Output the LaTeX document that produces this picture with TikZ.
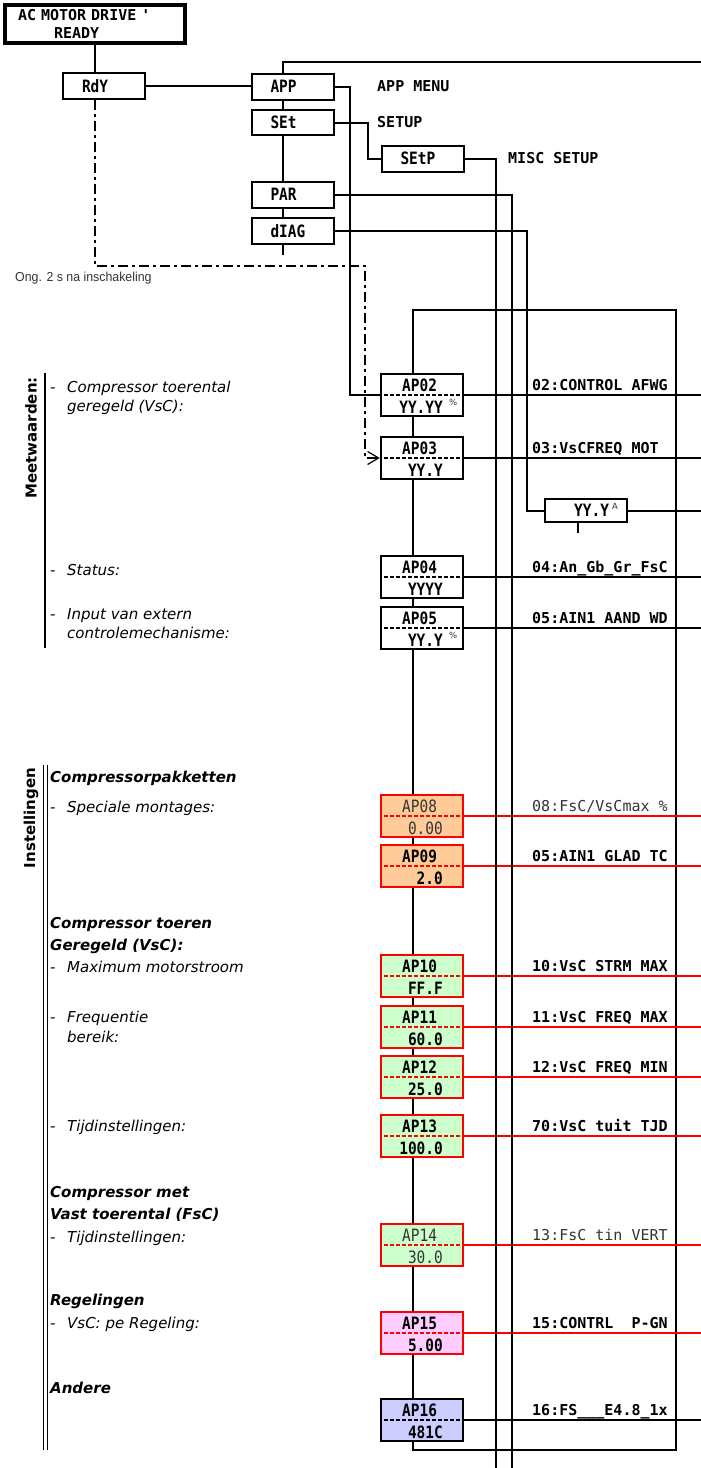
\documentclass[tikz,border=0pt]{standalone}
\usepackage{fontspec}
\usetikzlibrary{arrows.meta}
\newfontfamily\lcdfont{DejaVu Sans Mono}[FakeStretch=0.85]
\newfontfamily\tagfont{DejaVu Sans Mono}
\newfontfamily\notefont{DejaVu Sans}
\newfontfamily\hintfont{Liberation Sans}[FakeStretch=0.95]
\definecolor{peach}{HTML}{FFCC99}
\definecolor{mint}{HTML}{CCFFCC}
\definecolor{rose}{HTML}{FFCCFF}
\definecolor{lilac}{HTML}{CCCCFF}
\definecolor{dimink}{HTML}{333333}
\newcommand{\itemdash}{\makebox[17pt][l]{-}}

\begin{document}
\begin{tikzpicture}[x=1pt, y=-1pt,
    wire/.style={line width=2pt},
    menubox/.style={draw, wire, fill=white, minimum width=82pt, minimum height=26pt,
      inner xsep=0pt, inner ysep=0pt, text width=44pt, align=left,
      font=\lcdfont\bfseries\fontsize{17}{18}\selectfont},
    apbox/.style={draw, line width=2.5pt, minimum width=82pt, minimum height=42pt},
    lcdtext/.style={anchor=base west, inner sep=0pt, font=\lcdfont\bfseries\fontsize{17}{18}\selectfont},
    lcdvalue/.style={lcdtext, anchor=base east},
    tagtext/.style={anchor=base west, inner sep=0pt, font=\tagfont\bfseries\fontsize{15}{18}\selectfont},
    unitmark/.style={anchor=base west, inner sep=0pt, text=black!80, font=\notefont\fontsize{8.5}{9}\selectfont},
    notetext/.style={anchor=base west, inner sep=0pt, font=\notefont\itshape\fontsize{15}{18}\selectfont},
    headtext/.style={notetext, font=\notefont\bfseries\itshape\fontsize{15}{18}\selectfont},
    sidetext/.style={rotate=90, font=\notefont\bfseries\fontsize{15}{18}\selectfont},
    dashdot/.style={line width=1.8pt, dash pattern=on 10pt off 4pt on 3pt off 4pt},
    firm/.style={},
    dim/.style={text=dimink, execute at begin node=\mdseries},
    >={Straight Barb[length=11pt,width=13pt,line width=1.2pt]}
  ]
  \useasboundingbox (0,0) rectangle (701,1468);

  % Fixed points at the edges
  \coordinate (rim) at (701,0);
  \coordinate (spine) at (283,0);
  \coordinate (topbar) at (701,62);
  \coordinate (bus1) at (496,1468);
  \coordinate (bus2) at (512,1468);
  \coordinate (loopnw) at (413,310);
  \coordinate (loopse) at (676,1450);

  % Display and main menu
  \node[draw, line width=4pt, minimum width=180pt, minimum height=38pt, inner sep=0pt,
    text width=154pt, align=left, font=\tagfont\bfseries\fontsize{15}{18}\selectfont]
    (drive) at (95,24) {AC MOTOR DRIVE \textquotesingle\\\phantom{XXXX}READY};
  \node[menubox] (rdy) at (104,86) {RdY};
  \node[menubox] (app) at (292.5,86.5) {APP};
  \node[menubox, minimum height=25pt] (set) at (292.5,122.5) {SEt};
  \node[menubox] (setp) at (422.5,158.5) {SEtP};
  \node[menubox] (par) at (292.5,194.5) {PAR};
  \node[menubox] (diag) at (292.5,231) {dIAG};
  \node[menubox, minimum height=23pt] (amp) at (586,510.5) {};
  \node[lcdtext] at (574,516) {YY.Y};
  \node[unitmark] at (612,509) {A};

  \node[tagtext] at (377,91) {APP MENU};
  \node[tagtext] at (377,127) {SETUP};
  \node[tagtext] at (508,163) {MISC SETUP};
  \node[anchor=base west, inner sep=0pt, text=dimink, font=\hintfont\fontsize{13}{15}\selectfont]
    at (15,281) {Ong. 2 s na inschakeling};

  % APP parameter loop
  \draw[wire] (loopnw) rectangle (loopse);
  \foreach \nm/\yy/\cd/\val/\un/\lbl/\lc/\fc/\tw in {
      ap02/395/AP02/YY.YY/\%/{02:CONTROL AFWG}/black/white/firm,
      ap03/458/AP03/YY.Y//{03:VsCFREQ MOT}/black/white/firm,
      ap04/577/AP04/YYYY//{04:An\_Gb\_Gr\_FsC}/black/white/firm,
      ap05/628/AP05/YY.Y/\%/{05:AIN1 AAND WD}/black/white/firm,
      ap08/816/AP08/0.00//{08:FsC/VsCmax \%}/red/peach/dim,
      ap09/866/AP09/2.0//{05:AIN1 GLAD TC}/red/peach/firm,
      ap10/976/AP10/FF.F//{10:VsC STRM MAX}/red/mint/firm,
      ap11/1027/AP11/60.0//{11:VsC FREQ MAX}/red/mint/firm,
      ap12/1077/AP12/25.0//{12:VsC FREQ MIN}/red/mint/firm,
      ap13/1136/AP13/100.0//{70:VsC tuit TJD}/red/mint/firm,
      ap14/1245/AP14/30.0//{13:FsC tin VERT}/red/mint/dim,
      ap15/1333/AP15/5.00//{15:CONTRL\ \ P-GN}/red/rose/firm,
      ap16/1420/AP16/481C//{16:FS\_\_\_E4.8\_1x}/black/lilac/firm}{
    \node[apbox, draw=\lc, fill=\fc] (\nm) at (422,\yy) {};
    \draw[\lc, line width=1.4pt, dash pattern=on 4pt off 2pt] ([xshift=4pt]\nm.west) -- (\nm.east);
    \draw[wire, \lc] (\nm.east) -- (\nm.east -| rim);
    \node[lcdtext, \tw] at (402,\yy-4) {\cd};
    \node[lcdvalue, \tw] at (443,\yy+18) {\val};
    \node[unitmark] at (449,\yy+10) {\un};
    \node[tagtext, \tw] at (532,\yy-4.5) {\lbl};
  }

  % Menu connections
  \draw[wire] (drive.south) -- (drive.south |- rdy.north);
  \draw[wire] (rdy.east) -- (rdy.east -| app.west);
  \draw[wire] (app.north -| spine) |- (topbar);
  \draw[wire] (app.south -| spine) -- (set.north -| spine);
  \draw[wire] (set.south -| spine) -- (par.north -| spine);
  \draw[wire] (par.south -| spine) -- (diag.north -| spine);
  \draw[dashdot] (diag.south -| spine) -- ++(0,10);
  \draw[wire] (app.east) -- ++(15,0) |- (ap02.west);
  \draw[wire] (set.east) -- ++(33,0) |- (setp.west);
  \draw[wire] (setp.east) -| (bus1);
  \draw[wire] (par.east) -| (bus2);
  \draw[wire] (diag.east) -| ([xshift=-17pt]amp.west) -- (amp.west);
  \draw[wire] (amp.east) -- (amp.east -| rim);
  \draw[wire] ([xshift=-8pt]amp.south) -- ++(0,10);
  \draw[dashdot, ->] (rdy.south -| drive.south) -- ++(0,166) -| ([xshift=-15pt]ap03.west) -- (ap03.west);

  % Meetwaarden
  \node[sidetext] at (31,438) {Meetwaarden:};
  \draw[line width=2.2pt] (45,373) -- (45,648);
  \node[notetext] at (50,392) {\itemdash Compressor toerental};
  \node[notetext] at (67,411) {geregeld (VsC):};
  \node[notetext] at (50,575) {\itemdash Status:};
  \node[notetext] at (50,619) {\itemdash Input van extern};
  \node[notetext] at (67,638) {controlemechanisme:};

  % Instellingen
  \node[sidetext] at (31,818) {Instellingen};
  \draw[line width=1.5pt, double distance=2.2pt] (45.5,765) -- (45.5,1450);
  \node[headtext] at (50,782) {Compressorpakketten};
  \node[notetext] at (50,812) {\itemdash Speciale montages:};
  \node[headtext] at (50,928) {Compressor toeren};
  \node[headtext] at (50,950) {Geregeld (VsC):};
  \node[notetext] at (50,972) {\itemdash Maximum motorstroom};
  \node[notetext] at (50,1022) {\itemdash Frequentie};
  \node[notetext] at (67,1042) {bereik:};
  \node[notetext] at (50,1131) {\itemdash Tijdinstellingen:};
  \node[headtext] at (50,1197) {Compressor met};
  \node[headtext] at (50,1219) {Vast toerental (FsC)};
  \node[notetext] at (50,1242) {\itemdash Tijdinstellingen:};
  \node[headtext] at (50,1305) {Regelingen};
  \node[notetext] at (50,1328) {\itemdash VsC: pe Regeling:};
  \node[headtext] at (50,1393) {Andere};
\end{tikzpicture}
\end{document}
